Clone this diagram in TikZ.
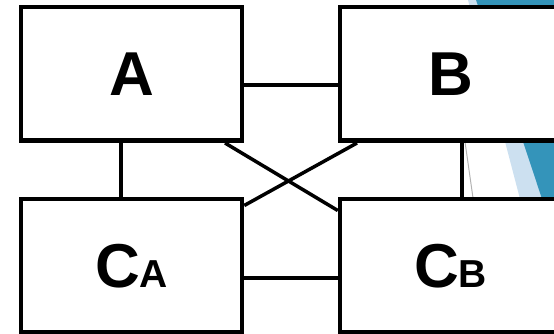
\documentclass[tikz,border=0pt]{standalone}
\usepackage{fontspec}
\setmainfont{Liberation Sans}
\usepackage{tikz}
\definecolor{darkblue}{RGB}{52,148,186}
\definecolor{lightblue}{RGB}{204,224,240}

\begin{document}
\begin{tikzpicture}[x=1pt, y=1pt, node distance={192pt},
  main/.style = {draw, line width=4.5pt, fill=white, minimum width=221pt, minimum height=133.5pt, font=\bfseries\fontsize{62}{70}\selectfont},
  link/.style = {line width=3.5pt}]
\useasboundingbox (0,0) rectangle (554,334);
\fill[lightblue] (468,334) -- (554,334) -- (554,5) -- cycle;
\fill[darkblue] (476,334) -- (554,334) -- (554,99) -- cycle;
\draw[gray!60, line width=1pt] (459,234) -- (477,108);
\node[main] (1) at (131.5,260) {A};
\node[main] (2) [right of=1, xshift=127pt] {B};
\node[main] (3) [below of=1] {C{\fontsize{39}{40}\selectfont A}};
\node[main] (4) [right of=3, xshift=127pt] {C{\fontsize{39}{40}\selectfont B}};
\draw[link] ([yshift=-11pt]1.east) -- ([yshift=-11pt]2.west);
\draw[link] ([yshift=-12pt]3.east) -- ([yshift=-12pt]4.west);
\draw[link] ([xshift=-10.5pt]1.south) -- ([xshift=-10.5pt]3.north);
\draw[link] ([xshift=11.5pt]2.south) -- ([xshift=11.5pt]4.north);
\draw[link] ([xshift=93.5pt]1.south) -- ([yshift=55.5pt]4.west);
\draw[link] ([xshift=-93.5pt]2.south) -- ([yshift=60.5pt]3.east);
\end{tikzpicture}
\end{document}
